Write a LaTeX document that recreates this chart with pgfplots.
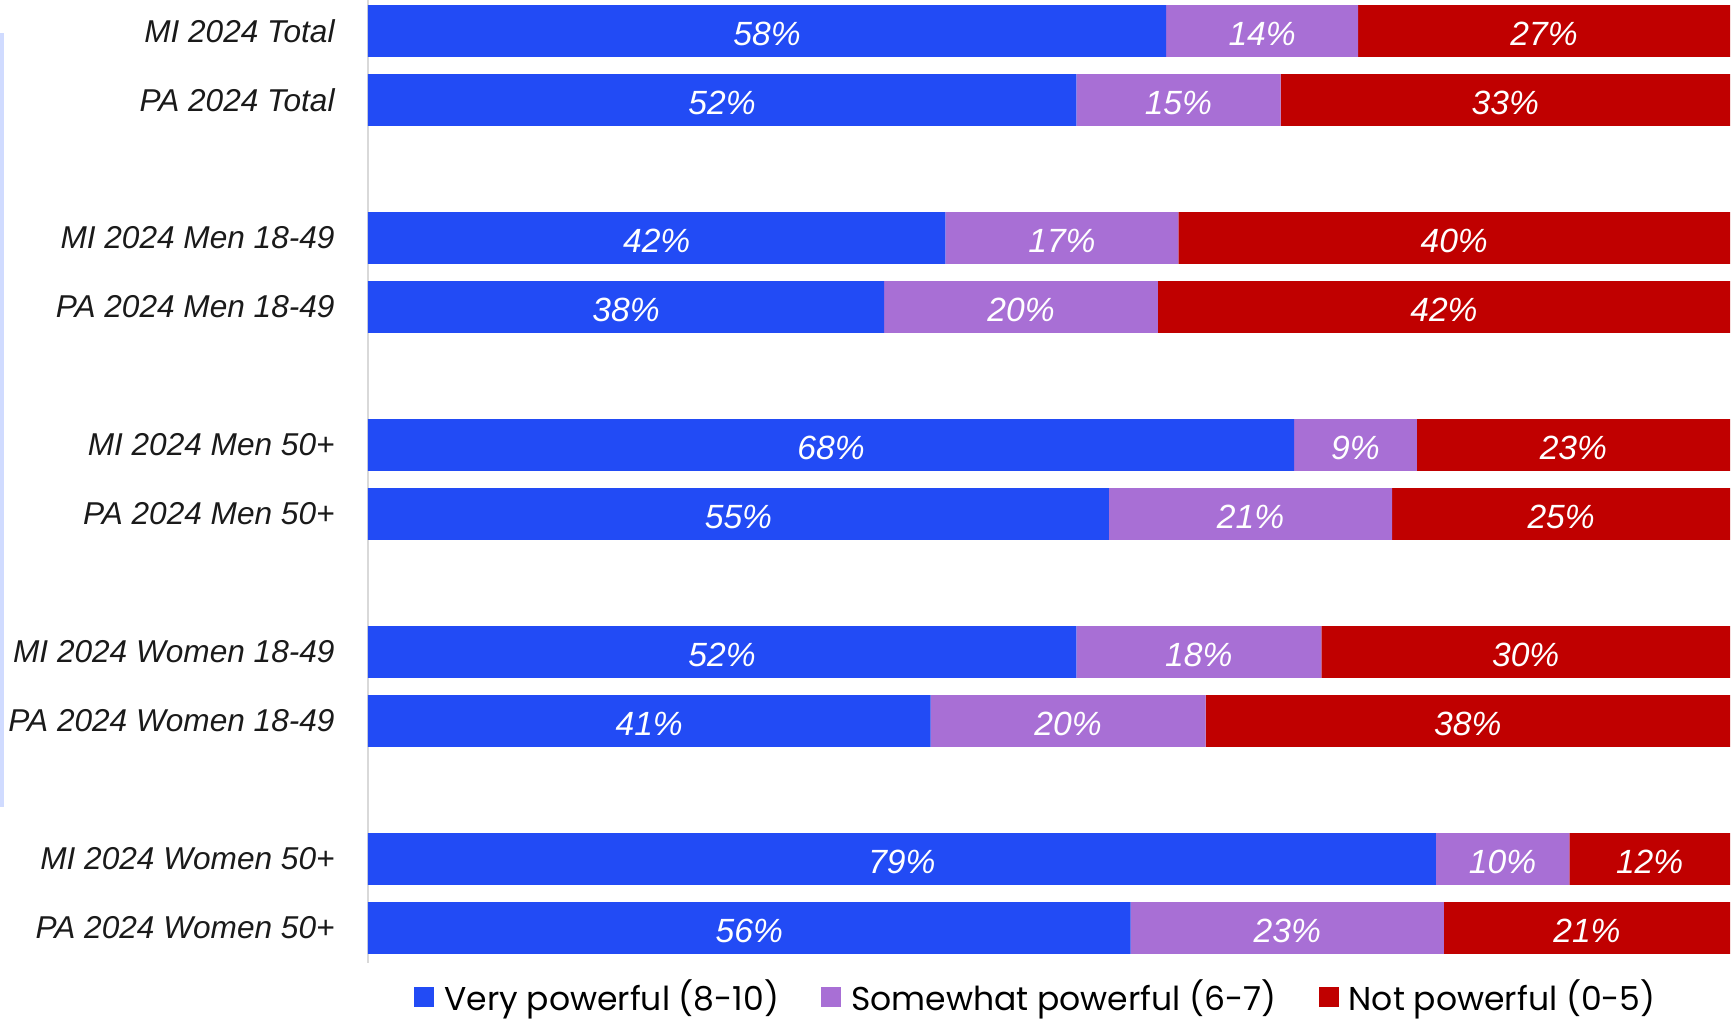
\documentclass[border=0pt]{standalone}
\usepackage{pgfplots}
\pgfplotsset{compat=1.18}
\usepackage{pgfplotstable}
\usepackage{fontspec}
\setmainfont{Liberation Sans}
\newfontfamily\legfont{Poppins}

\definecolor{vpow}{HTML}{224BF5}
\definecolor{spow}{HTML}{A86FD5}
\definecolor{npow}{HTML}{C00000}
\definecolor{axisgray}{HTML}{D9D9D9}
\definecolor{strip}{HTML}{D0DBFF}
\definecolor{labtext}{HTML}{1A1A1A}

% a = very, b = somewhat, c = not (bar lengths); la/lb/lc = printed labels
\pgfplotstableread{
y    a    b    c    la lb lc
0    58.6 14.1 27.3 58 14 27
-1   52.0 15.0 33.0 52 15 33
-3   42.4 17.1 40.5 42 17 40
-4   37.9 20.1 42.0 38 20 42
-6   68.0  9.0 23.0 68 9  23
-7   54.4 20.8 24.8 55 21 25
-9   52.0 18.0 30.0 52 18 30
-10  41.3 20.2 38.5 41 20 38
-12  78.4  9.8 11.8 79 10 12
-13  56.0 23.0 21.0 56 23 21
}\data

\begin{document}
\begin{tikzpicture}
  \begin{axis}[
      xbar stacked,
      scale only axis,
      width=681pt, height=481.3pt,
      xmin=0, xmax=100,
      ymin=-13.5, ymax=0.45,
      bar width=0.75,
      axis x line=none,
      axis y line*=left,
      y axis line style={axisgray, line width=0.75pt, -},
      ytick={0,-1,-3,-4,-6,-7,-9,-10,-12,-13},
      yticklabels={MI 2024 Total, PA 2024 Total,
        MI 2024 Men 18-49, PA 2024 Men 18-49,
        MI 2024 Men 50+, PA 2024 Men 50+,
        MI 2024 Women 18-49, PA 2024 Women 18-49,
        MI 2024 Women 50+, PA 2024 Women 50+},
      major tick length=0pt,
      yticklabel style={font=\fontsize{15.8}{19}\selectfont\itshape,
        text=labtext, inner sep=0pt, xshift=-16.5pt},
      point meta=explicit symbolic,
      nodes near coords={\pgfplotspointmeta\%},
      nodes near coords style={font=\fontsize{16.8}{19}\selectfont\itshape,
        text=white, anchor=center, yshift=-1.5pt},
      legend style={at={(0.5,0)}, anchor=north, xshift=-6pt, yshift=-4.5pt,
        draw=none, fill=none, font=\legfont\fontsize{16.5}{19}\selectfont,
        /tikz/every odd column/.append style={column sep=3pt},
        /tikz/every even column/.append style={column sep=19pt}},
      legend columns=3,
      legend image code/.code={\fill[#1,draw=none] (0pt,-5pt) rectangle (10pt,5pt);},
    ]
    \addplot[fill=vpow, draw=none] table[x=a, y=y, meta=la] {\data};
    \addlegendentry{Very powerful (8-10)}
    \addplot[fill=spow, draw=none] table[x=b, y=y, meta=lb] {\data};
    \addlegendentry{Somewhat powerful (6-7)}
    \addplot[fill=npow, draw=none] table[x=c, y=y, meta=lc] {\data};
    \addlegendentry{Not powerful (0-5)}
  \end{axis}
  % thin decorative strip at the far left
  \fill[strip] ([xshift=-184pt,yshift=-16.5pt]current axis.north west)
    rectangle ([xshift=-182pt,yshift=-403.5pt]current axis.north west);
  \pgfresetboundingbox
  \path ([xshift=-184pt]current axis.north west)
    rectangle ([xshift=1pt,yshift=-28.2pt]current axis.south east);
\end{tikzpicture}
\end{document}
